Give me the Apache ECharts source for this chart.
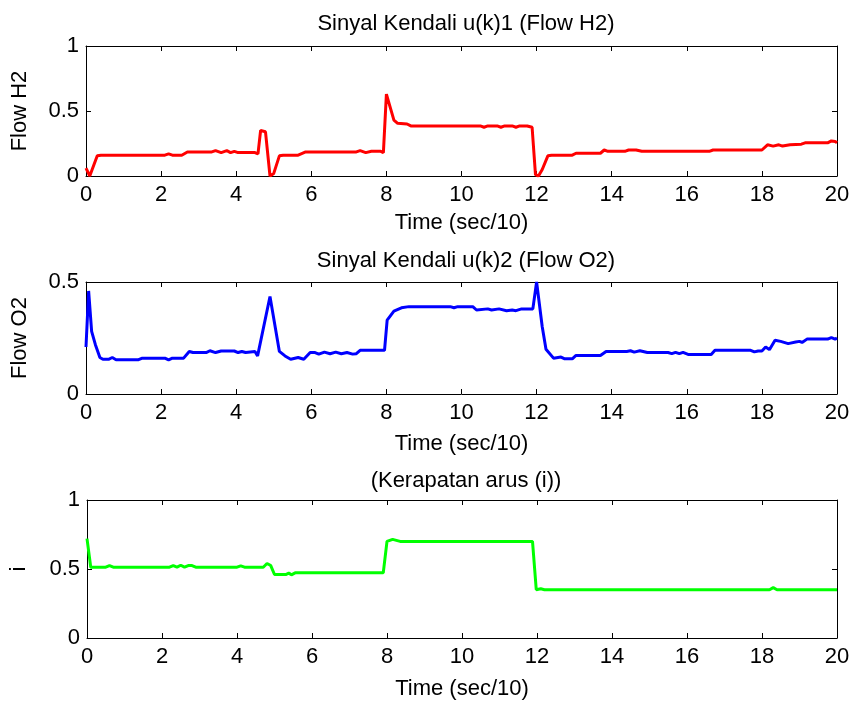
<!DOCTYPE html>
<html>
<head>
<meta charset="utf-8">
<script src="https://cdn.jsdelivr.net/npm/echarts@6/dist/echarts.min.js"></script>
<style>html,body{margin:0;padding:0;background:#fff;}#c{width:853px;height:701px;}</style>
</head>
<body>
<div id="c"></div>
<script>
// ---- Data ----
var titles = ['Sinyal Kendali u(k)1 (Flow H2)', 'Sinyal Kendali u(k)2 (Flow O2)', '(Kerapatan arus (i))'];
var yNames = ['Flow H2', 'Flow O2', 'i'];
var xName = 'Time (sec/10)';
var xTicks = [0, 2, 4, 6, 8, 10, 12, 14, 16, 18, 20];

var timeH2 = [0,0.1,0.15,0.3,0.4,2.1,2.2,2.3,2.55,2.7,3.35,3.45,3.6,3.75,3.85,3.95,4.05,4.5,4.58,4.65,4.78,4.9,5.0,5.15,5.25,5.65,5.85,7.2,7.3,7.45,7.6,7.85,7.92,8.0,8.2,8.3,8.55,8.65,10.5,10.6,10.7,10.95,11.05,11.15,11.35,11.45,11.55,11.75,11.88,11.97,12.05,12.15,12.3,12.4,12.95,13.05,13.7,13.8,13.9,14.35,14.45,14.65,14.8,16.6,16.7,18.0,18.15,18.3,18.45,18.55,18.75,19.05,19.15,19.75,19.85,19.95,20];
var flowH2 = [0.06,0.0,0.01,0.155,0.16,0.16,0.17,0.16,0.16,0.185,0.185,0.195,0.18,0.195,0.18,0.19,0.18,0.18,0.17,0.35,0.34,0.0,0.02,0.155,0.16,0.16,0.185,0.185,0.195,0.18,0.19,0.19,0.18,0.63,0.43,0.405,0.40,0.385,0.385,0.375,0.385,0.385,0.375,0.385,0.385,0.375,0.385,0.385,0.375,0.01,0.0,0.05,0.155,0.16,0.16,0.175,0.175,0.2,0.19,0.19,0.2,0.2,0.19,0.19,0.2,0.2,0.24,0.23,0.24,0.23,0.24,0.245,0.255,0.255,0.27,0.265,0.255];

var timeO2 = [0,0.07,0.15,0.25,0.37,0.45,0.6,0.7,0.8,1.4,1.5,2.1,2.2,2.3,2.6,2.75,2.85,3.2,3.3,3.45,3.6,3.95,4.05,4.15,4.25,4.5,4.57,4.9,5.15,5.3,5.45,5.65,5.8,5.97,6.1,6.2,6.35,6.5,6.65,6.8,6.95,7.1,7.2,7.3,7.95,8.02,8.2,8.4,8.6,9.7,9.8,9.9,10.3,10.4,10.7,10.8,11.0,11.2,11.35,11.45,11.6,11.9,12.0,12.15,12.25,12.45,12.65,12.75,12.95,13.05,13.7,13.85,14.4,14.5,14.6,14.75,14.95,15.5,15.6,15.7,15.8,15.9,16.05,16.65,16.75,17.7,17.8,17.9,18.0,18.05,18.1,18.2,18.35,18.5,18.7,18.9,19.0,19.07,19.2,19.75,19.85,19.95,20];
var flowO2 = [0.21,0.46,0.28,0.22,0.163,0.155,0.155,0.163,0.153,0.153,0.16,0.16,0.152,0.16,0.16,0.19,0.185,0.185,0.193,0.185,0.192,0.192,0.185,0.19,0.185,0.19,0.17,0.435,0.19,0.17,0.155,0.163,0.155,0.185,0.185,0.178,0.187,0.18,0.187,0.18,0.185,0.178,0.18,0.195,0.195,0.33,0.37,0.385,0.39,0.39,0.385,0.39,0.39,0.375,0.38,0.375,0.38,0.372,0.375,0.372,0.38,0.38,0.5,0.3,0.2,0.16,0.165,0.157,0.157,0.172,0.172,0.19,0.19,0.193,0.187,0.193,0.185,0.185,0.18,0.186,0.18,0.186,0.176,0.176,0.195,0.195,0.188,0.192,0.192,0.185,0.21,0.198,0.24,0.235,0.225,0.232,0.235,0.23,0.245,0.245,0.252,0.245,0.25];

var timeI = [0,0.1,0.5,0.6,0.7,2.2,2.3,2.4,2.5,2.6,2.7,2.8,2.9,4.0,4.1,4.2,4.7,4.8,4.9,5.0,5.3,5.38,5.45,5.55,7.9,8.0,8.15,8.35,11.88,11.98,12.1,12.2,18.2,18.3,18.4,20];
var currI = [0.72,0.513,0.513,0.525,0.513,0.513,0.525,0.513,0.527,0.513,0.525,0.525,0.513,0.513,0.523,0.513,0.513,0.54,0.525,0.46,0.46,0.47,0.458,0.472,0.472,0.70,0.715,0.70,0.70,0.35,0.357,0.35,0.35,0.365,0.35,0.35];

var yMax = [1, 0.5, 1];
var colors = ['#ff0000', '#0000ff', '#00ff00'];

// ---- Build options ----
function zip(t, v) { return t.map(function (x, i) { return [x, v[i]]; }); }
var seriesData = [zip(timeH2, flowH2), zip(timeO2, flowO2), zip(timeI, currI)];

var FONT = 'Liberation Sans, Arial, sans-serif';
var FS = 22;
var grids = [
  {left: 86, right: 16, top: 46, height: 130},
  {left: 86, right: 16, top: 282, height: 112},
  {left: 86, right: 16, top: 500, height: 138}
];
var titleTops = [8, 245, 465];
var xNameGaps = [36, 39, 40];
var yNameGaps = [55, 55, 57];

var axisLineS = {show: true, onZero: false, lineStyle: {color: '#000', width: 1}};
var tickS = {show: true, inside: true, length: 5, lineStyle: {color: '#000', width: 1}};
var labelS = {color: '#000', fontFamily: FONT, fontSize: FS};

var xAxes = [], yAxes = [], series = [], title = [];
for (var g = 0; g < 3; g++) {
  title.push({text: titles[g], left: 461, textAlign: 'center', top: titleTops[g],
    textStyle: {color: '#000', fontFamily: FONT, fontSize: FS, fontWeight: 'normal'}});
  xAxes.push({type: 'value', gridIndex: g, position: 'bottom', min: 0, max: 20, interval: 2,
    name: xName, nameLocation: 'middle', nameGap: xNameGaps[g],
    nameTextStyle: {color: '#000', fontFamily: FONT, fontSize: FS},
    axisLine: axisLineS, axisTick: tickS, splitLine: {show: false},
    axisLabel: Object.assign({margin: 8}, labelS)});
  xAxes.push({type: 'value', gridIndex: g, position: 'top', min: 0, max: 20, interval: 2,
    axisLine: axisLineS, axisTick: tickS, splitLine: {show: false}, axisLabel: {show: false}});
  yAxes.push({type: 'value', gridIndex: g, position: 'left', min: 0, max: yMax[g], interval: 0.5,
    name: yNames[g], nameLocation: 'middle', nameGap: yNameGaps[g], nameRotate: 90,
    nameTextStyle: {color: '#000', fontFamily: FONT, fontSize: FS},
    axisLine: axisLineS, axisTick: tickS, splitLine: {show: false},
    axisLabel: Object.assign({margin: 7}, labelS)});
  yAxes.push({type: 'value', gridIndex: g, position: 'right', min: 0, max: yMax[g], interval: 0.5,
    axisLine: axisLineS, axisTick: tickS, splitLine: {show: false}, axisLabel: {show: false}});
  series.push({type: 'line', xAxisIndex: g * 2, yAxisIndex: g * 2, data: seriesData[g],
    showSymbol: false, symbol: 'none', animation: false, z: 1,
    lineStyle: {color: colors[g], width: 3}, itemStyle: {color: colors[g]}});
}

var chart = echarts.init(document.getElementById('c'), null, {renderer: 'canvas'});
chart.setOption({
  backgroundColor: '#fff',
  animation: false,
  title: title,
  grid: grids,
  xAxis: xAxes,
  yAxis: yAxes,
  series: series
});
</script>
</body>
</html>
